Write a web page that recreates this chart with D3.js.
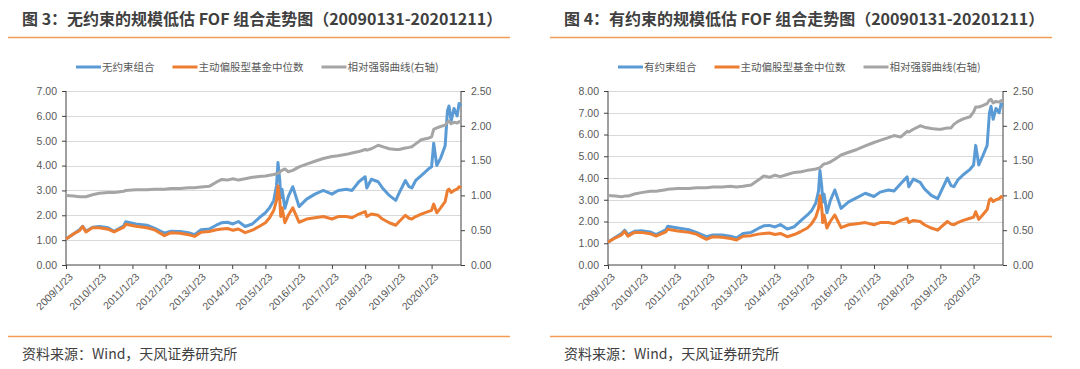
<!DOCTYPE html>
<html>
<head>
<meta charset="utf-8">
<script src="https://cdn.jsdelivr.net/npm/d3@7"></script>
<style>
  body { margin: 0; background: #fff; }
  svg { display: block; font-family: "Noto Sans CJK SC", "Noto Sans", sans-serif; }
</style>
</head>
<body>
<div id="chart"></div>
<script>
// shared dates
var dates = ["2009-01-23","2009-04-15","2009-06-20","2009-07-25","2009-08-30","2009-11-10",
  "2010-01-23","2010-05-01","2010-07-05","2010-10-20","2010-11-10","2011-03-01","2011-07-01","2011-09-20",
  "2012-01-10","2012-03-20","2012-06-30","2012-10-01","2012-12-05","2013-02-15","2013-05-15","2013-08-01",
  "2013-10-01","2013-12-01","2014-02-01","2014-04-01","2014-06-15","2014-09-01","2014-11-15","2015-01-23",
  "2015-03-10","2015-04-25","2015-05-25","2015-06-10","2015-06-30","2015-07-10","2015-07-25","2015-08-25",
  "2015-10-01","2015-11-20","2016-01-28","2016-04-20","2016-07-20","2016-10-20","2017-01-23","2017-04-01",
  "2017-07-01","2017-09-01","2017-11-15","2018-01-23","2018-02-10","2018-04-01","2018-06-15","2018-08-01",
  "2018-10-15","2018-12-25","2019-02-01","2019-04-10","2019-05-20","2019-06-20","2019-08-01","2019-10-01",
  "2019-12-15","2020-01-23","2020-02-15","2020-03-20","2020-05-01","2020-06-20","2020-07-15","2020-08-01",
  "2020-08-25","2020-09-25","2020-10-30","2020-11-20","2020-12-11"];

// 主动偏股型基金中位数 (same in both charts)
var fundMedian = [1.05,1.25,1.38,1.55,1.33,1.5,1.5,1.44,1.33,1.52,1.64,1.56,1.5,1.42,
  1.18,1.3,1.28,1.22,1.15,1.32,1.35,1.42,1.45,1.47,1.4,1.45,1.3,1.4,1.55,1.7,
  1.9,2.2,2.6,3.18,2.6,1.95,2.3,1.7,2.0,2.3,1.72,1.85,1.9,1.95,1.85,1.95,
  1.95,1.9,2.05,2.15,1.95,2.05,2.0,1.85,1.7,1.6,1.75,2.0,1.88,1.85,1.95,2.05,
  2.15,2.2,2.45,2.1,2.3,2.55,3.0,3.05,2.92,3.0,3.05,3.15,3.1];

// 图3 无约束组合 / 相对强弱曲线
var freePortfolio = [1.05,1.25,1.42,1.56,1.36,1.52,1.55,1.5,1.36,1.58,1.74,1.65,1.6,1.48,
  1.28,1.36,1.35,1.3,1.22,1.42,1.45,1.6,1.7,1.72,1.65,1.75,1.55,1.65,1.9,2.1,
  2.3,2.6,3.2,4.12,3.4,2.7,3.05,2.28,2.75,3.15,2.35,2.65,2.85,3.0,2.85,3.0,
  3.05,3.0,3.35,3.55,3.1,3.45,3.35,3.1,2.8,2.6,2.9,3.4,3.15,3.1,3.4,3.6,
  3.85,3.95,4.9,4.0,4.3,4.8,6.2,6.4,5.8,6.3,6.0,6.5,6.4];
var freeRatio = [1.0,0.99,0.98,0.98,0.98,1.01,1.03,1.04,1.04,1.06,1.07,1.08,1.08,1.09,
  1.09,1.1,1.1,1.11,1.11,1.12,1.13,1.19,1.23,1.22,1.24,1.22,1.24,1.26,1.27,1.28,
  1.29,1.3,1.31,1.32,1.33,1.35,1.36,1.38,1.34,1.36,1.41,1.45,1.49,1.53,1.56,1.57,
  1.59,1.61,1.63,1.66,1.65,1.67,1.72,1.7,1.67,1.66,1.66,1.68,1.69,1.7,1.74,1.8,
  1.82,1.84,1.95,1.97,1.99,2.01,2.05,2.07,2.03,2.05,2.04,2.06,2.05];

// 图4 有约束组合 / 相对强弱曲线
var boundPortfolio = [1.05,1.28,1.45,1.6,1.4,1.55,1.57,1.52,1.4,1.62,1.78,1.7,1.62,1.5,
  1.3,1.38,1.38,1.32,1.24,1.45,1.5,1.68,1.8,1.82,1.75,1.86,1.65,1.76,2.05,2.3,
  2.5,2.85,3.4,4.35,3.6,2.9,3.25,2.4,2.95,3.45,2.6,2.9,3.1,3.3,3.15,3.35,
  3.45,3.4,3.75,4.05,3.6,3.95,3.8,3.5,3.2,3.05,3.4,4.0,3.65,3.6,3.9,4.15,
  4.4,4.6,5.5,4.6,5.0,5.5,7.0,7.3,6.7,7.2,7.0,7.4,7.35];
var boundRatio = [1.0,0.99,0.98,0.99,0.99,1.02,1.04,1.06,1.06,1.08,1.09,1.1,1.1,1.11,
  1.11,1.12,1.12,1.13,1.12,1.13,1.15,1.22,1.28,1.26,1.29,1.27,1.3,1.33,1.34,1.36,
  1.37,1.38,1.39,1.4,1.42,1.44,1.45,1.46,1.48,1.52,1.58,1.62,1.66,1.71,1.76,1.79,
  1.83,1.86,1.84,1.92,1.91,1.95,2.0,1.98,1.96,1.95,1.95,1.97,1.97,2.02,2.06,2.1,
  2.13,2.2,2.27,2.27,2.29,2.32,2.37,2.38,2.33,2.35,2.34,2.36,2.37];

var xTickLabels = ["2009/1/23","2010/1/23","2011/1/23","2012/1/23","2013/1/23","2014/1/23",
  "2015/1/23","2016/1/23","2017/1/23","2018/1/23","2019/1/23","2020/1/23"];
var leftTicks3 = [0,1,2,3,4,5,6,7];
var leftTicks4 = [0,1,2,3,4,5,6,7,8];
var rightTicks = [0,0.5,1,1.5,2,2.5];

var colors = { portfolio: "#5B9BD5", fund: "#ED7D31", ratio: "#A5A5A5" };

var parse = d3.timeParse("%Y-%m-%d");
var parseTick = d3.timeParse("%Y/%m/%d");

var W = 1080, H = 369;
var svg = d3.select("#chart").append("svg")
  .attr("width", W).attr("height", H);
svg.append("rect").attr("width", W).attr("height", H).attr("fill", "#fff");

var panels = [
  { ox: 0, title: "图 3：无约束的规模低估 FOF 组合走势图（20090131-20201211）",
    name: "无约束组合", portfolio: freePortfolio, ratio: freeRatio, leftTicks: leftTicks3 },
  { ox: 542, title: "图 4：有约束的规模低估 FOF 组合走势图（20090131-20201211）",
    name: "有约束组合", portfolio: boundPortfolio, ratio: boundRatio, leftTicks: leftTicks4 }
];

panels.forEach(function(p) {
  var g = svg.append("g").attr("transform", "translate(" + p.ox + ",0)");

  // title and rules
  g.append("text").attr("x", 22).attr("y", 25)
    .attr("font-size", 16).attr("font-weight", "bold").attr("fill", "#404040")
    .text(p.title);
  g.append("line").attr("x1", 8).attr("x2", 510).attr("y1", 37.5).attr("y2", 37.5)
    .attr("stroke", "#F39C53").attr("stroke-width", 1.5);
  g.append("line").attr("x1", 8).attr("x2", 510).attr("y1", 336.5).attr("y2", 336.5)
    .attr("stroke", "#F39C53").attr("stroke-width", 1.5);
  g.append("text").attr("x", 22).attr("y", 359)
    .attr("font-size", 14).attr("fill", "#404040")
    .text("资料来源：Wind，天风证券研究所");

  // scales
  var left = 66, right = 461, top = 91, bottom = 265;
  var x = d3.scaleTime()
    .domain([parse("2009-01-23"), parse("2020-12-11")])
    .range([left, right]);
  var yL = d3.scaleLinear().domain([0, d3.max(p.leftTicks)]).range([bottom, top]);
  var yR = d3.scaleLinear().domain([0, 2.5]).range([bottom, top]);

  // gridlines
  g.append("g").selectAll("line").data(p.leftTicks.slice(1)).enter().append("line")
    .attr("x1", left).attr("x2", right)
    .attr("y1", function(d) { return Math.round(yL(d)) + 0.5; })
    .attr("y2", function(d) { return Math.round(yL(d)) + 0.5; })
    .attr("stroke", "#D9D9D9").attr("stroke-width", 1);

  // axes
  var axL = g.append("g").attr("transform", "translate(" + left + ",0)")
    .call(d3.axisLeft(yL).tickValues(p.leftTicks).tickFormat(d3.format(".2f")).tickSize(4).tickPadding(5));
  var axR = g.append("g").attr("transform", "translate(" + right + ",0)")
    .call(d3.axisRight(yR).tickValues(rightTicks).tickFormat(d3.format(".2f")).tickSize(4).tickPadding(6));
  var axB = g.append("g").attr("transform", "translate(0," + bottom + ")")
    .call(d3.axisBottom(x).tickValues(xTickLabels.map(parseTick)).tickFormat("").tickSize(4));
  axB.append("g").selectAll("text").data(xTickLabels).enter().append("text")
    .attr("transform", function(d) { return "translate(" + (x(parseTick(d)) + 5) + ",10) rotate(-45)"; })
    .attr("text-anchor", "end").attr("font-size", 10.5).attr("fill", "#595959")
    .attr("font-family", "'Liberation Sans', sans-serif")
    .attr("dy", "0.35em")
    .text(function(d) { return d; });

  [axL, axR, axB].forEach(function(a) {
    a.selectAll(".domain").attr("stroke", "#404040");
    a.selectAll(".tick line").attr("stroke", "#404040");
    a.selectAll(".tick text").attr("fill", "#595959").attr("font-size", 10.5)
      .attr("font-family", "'Liberation Sans', sans-serif");
  });
  axL.select(".domain").attr("d", "M0," + top + "V" + bottom);
  axR.select(".domain").attr("d", "M0," + top + "V" + bottom);
  axB.select(".domain").attr("d", "M" + left + ",0H" + right);

  // series
  var rows = dates.map(function(d, i) {
    return { date: parse(d), portfolio: p.portfolio[i], fund: fundMedian[i], ratio: p.ratio[i] };
  });
  var lineL = function(key) {
    return d3.line().x(function(d) { return x(d.date); }).y(function(d) { return yL(d[key]); });
  };
  var lineR = d3.line().x(function(d) { return x(d.date); }).y(function(d) { return yR(d.ratio); });

  g.append("path").datum(rows).attr("d", lineL("portfolio"))
    .attr("fill", "none").attr("stroke", colors.portfolio).attr("stroke-width", 3).attr("stroke-linejoin", "round");
  g.append("path").datum(rows).attr("d", lineL("fund"))
    .attr("fill", "none").attr("stroke", colors.fund).attr("stroke-width", 3).attr("stroke-linejoin", "round");
  g.append("path").datum(rows).attr("d", lineR)
    .attr("fill", "none").attr("stroke", colors.ratio).attr("stroke-width", 3).attr("stroke-linejoin", "round");

  // legend
  var legendItems = [
    { label: p.name, color: colors.portfolio },
    { label: "主动偏股型基金中位数", color: colors.fund },
    { label: "相对强弱曲线(右轴)", color: colors.ratio }
  ];
  var lx = 76;
  legendItems.forEach(function(it) {
    g.append("line").attr("x1", lx).attr("x2", lx + 25).attr("y1", 67).attr("y2", 67)
      .attr("stroke", it.color).attr("stroke-width", 3);
    var t = g.append("text").attr("x", lx + 26).attr("y", 67).attr("dy", "0.35em")
      .attr("font-size", 10.5).attr("fill", "#595959").text(it.label);
    lx += 26 + t.node().getComputedTextLength() + 18;
  });
});
</script>
</body>
</html>
